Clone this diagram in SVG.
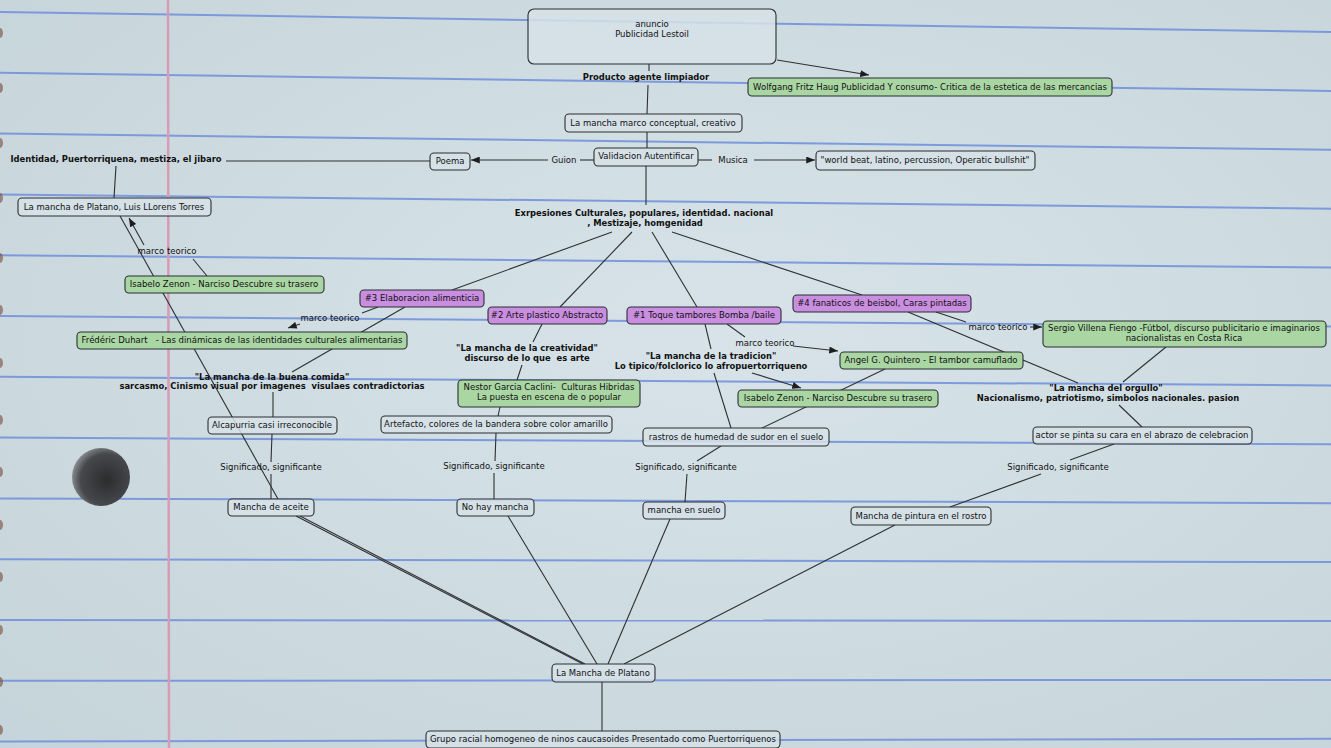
<svg xmlns="http://www.w3.org/2000/svg" width="1331" height="748" viewBox="0 0 1331 748">
<defs>
<radialGradient id="paper" cx="0.55" cy="0.45" r="0.8">
<stop offset="0" stop-color="#d7e3e8"/>
<stop offset="1" stop-color="#c5d4da"/>
</radialGradient>
<radialGradient id="holeg" cx="0.6" cy="0.55" r="0.6">
<stop offset="0" stop-color="#2c2c2e"/>
<stop offset="0.75" stop-color="#46484b"/>
<stop offset="1" stop-color="#85898c"/>
</radialGradient>
<marker id="ah" viewBox="0 0 10 8" refX="10" refY="4" markerWidth="9" markerHeight="7" orient="auto" markerUnits="userSpaceOnUse">
<path d="M0,0 L10,4 L0,8 z" fill="#1e1e1e"/>
</marker>
<style>
.rule{stroke:#6f8fdc;stroke-width:2;opacity:.85}
.c{stroke:#2e3034;stroke-width:1.1;fill:none}
.bx{fill:#d6e2e7;fill-opacity:.85;stroke:#2b2e32;stroke-width:1.1}
.g{fill:#a9d6a3;stroke:#2b2e32;stroke-width:1.1}
.p{fill:#c98edf;stroke:#2b2e32;stroke-width:1.1}
text{font-family:"DejaVu Sans","Liberation Sans",sans-serif;font-size:8.5px;fill:#111;text-anchor:middle;white-space:pre}
.b{font-weight:bold;font-size:8.4px}
</style>
</defs>
<rect width="1331" height="748" fill="url(#paper)"/>
<g id="paper-rules">
<line class="rule" x1="0" y1="12" x2="1331" y2="32"/>
<line class="rule" x1="0" y1="72.8" x2="1331" y2="90.9"/>
<line class="rule" x1="0" y1="133.6" x2="1331" y2="149.8"/>
<line class="rule" x1="0" y1="194.4" x2="1331" y2="208.7"/>
<line class="rule" x1="0" y1="255.2" x2="1331" y2="267.6"/>
<line class="rule" x1="0" y1="316" x2="1331" y2="326.5"/>
<line class="rule" x1="0" y1="376.8" x2="1331" y2="385.4"/>
<line class="rule" x1="0" y1="437.6" x2="1331" y2="444.3"/>
<line class="rule" x1="0" y1="498.4" x2="1331" y2="503.2"/>
<line class="rule" x1="0" y1="559.2" x2="1331" y2="562.1"/>
<line class="rule" x1="0" y1="620" x2="1331" y2="621"/>
<line class="rule" x1="0" y1="680.8" x2="1331" y2="679.9"/>
<line class="rule" x1="0" y1="741.6" x2="1331" y2="738.8"/>
</g>
<line x1="168" y1="0" x2="169" y2="748" stroke="#d79bb6" stroke-width="2.5"/>
<g id="binder-marks" fill="#7a4b3c" opacity="0.6">
<ellipse cx="0" cy="33" rx="3" ry="5"/><ellipse cx="0" cy="88" rx="3" ry="5"/><ellipse cx="0" cy="143" rx="3" ry="5"/><ellipse cx="0" cy="198" rx="3" ry="5"/><ellipse cx="0" cy="258" rx="3" ry="5"/><ellipse cx="0" cy="310" rx="3" ry="5"/><ellipse cx="0" cy="363" rx="3" ry="5"/><ellipse cx="0" cy="420" rx="3" ry="5"/><ellipse cx="0" cy="472" rx="3" ry="5"/><ellipse cx="0" cy="525" rx="3" ry="5"/><ellipse cx="0" cy="577" rx="3" ry="5"/><ellipse cx="0" cy="630" rx="3" ry="5"/><ellipse cx="0" cy="682" rx="3" ry="5"/><ellipse cx="0" cy="730" rx="3" ry="5"/>
</g>
<ellipse id="punch-hole" cx="101" cy="477" rx="29" ry="29" fill="url(#holeg)"/>

<g id="connectors">
<path class="c" d="M649,64 L649,71"/>
<path class="c" d="M648,85 L647,114"/>
<path class="c" d="M777,60 L869,75" marker-end="url(#ah)"/>
<path class="c" d="M647,132 L647,148"/>
<path class="c" d="M594,160 L580,160"/>
<path class="c" d="M548,160 L471,160" marker-end="url(#ah)"/>
<path class="c" d="M698,160 L712,160"/>
<path class="c" d="M754,160 L815,160" marker-end="url(#ah)"/>
<path class="c" d="M430,161 L226,161"/>
<path class="c" d="M116,166 L114,198"/>
<path class="c" d="M646,166 L646,205"/>
<path class="c" d="M612,232 L452,290"/>
<path class="c" d="M632,232 L560,307"/>
<path class="c" d="M652,232 L697,307"/>
<path class="c" d="M672,232 L862,295"/>
<path class="c" d="M207,276 L193,259"/>
<path class="c" d="M144,245 L129,218" marker-end="url(#ah)"/>
<path class="c" d="M120,216 L278,499"/>
<path class="c" d="M378,307 L362,313"/>
<path class="c" d="M300,324 L288,328" marker-end="url(#ah)"/>
<path class="c" d="M405,307 L292,372"/>
<path class="c" d="M273,392 L273,417"/>
<path class="c" d="M272,434 L271,462"/>
<path class="c" d="M271,474 L271,499"/>
<path class="c" d="M542,324 L533,342"/>
<path class="c" d="M522,365 L517,380"/>
<path class="c" d="M500,407 L498,416"/>
<path class="c" d="M496,433 L495,461"/>
<path class="c" d="M494,473 L494,499"/>
<path class="c" d="M727,324 L745,337"/>
<path class="c" d="M793,346 L838,351" marker-end="url(#ah)"/>
<path class="c" d="M705,324 L711,349"/>
<path class="c" d="M752,373 L801,388" marker-end="url(#ah)"/>
<path class="c" d="M714,373 L731,428"/>
<path class="c" d="M885,369 L762,428"/>
<path class="c" d="M721,446 L697,461"/>
<path class="c" d="M687,474 L685,502"/>
<path class="c" d="M936,312 L966,322"/>
<path class="c" d="M1030,327 L1042,327" marker-end="url(#ah)"/>
<path class="c" d="M908,312 L1078,383"/>
<path class="c" d="M1166,347 L1123,382"/>
<path class="c" d="M1119,405 L1142,427"/>
<path class="c" d="M1114,444 L1070,460"/>
<path class="c" d="M1041,474 L950,507"/>
<path class="c" d="M296,516 L583,664"/>
<path class="c" d="M300,516 L585,664"/>
<path class="c" d="M508,516 L597,664"/>
<path class="c" d="M670,519 L608,664"/>
<path class="c" d="M895,525 L624,664"/>
<path class="c" d="M602,682 L602,731"/>
</g>

<g id="n-anuncio"><rect class="bx" x="528" y="9" width="248" height="55" rx="6"/><text x="652" y="27">anuncio</text><text x="652" y="37">Publicidad Lestoil</text></g>
<g id="l-producto"><text class="b" x="646" y="80">Producto agente limpiador</text></g>
<g id="n-wolfgang"><rect class="g" x="748" y="78" width="364" height="18" rx="4"/><text x="930" y="90">Wolfgang Fritz Haug Publicidad Y consumo- Critica de la estetica de las mercancias</text></g>
<g id="n-marco-conceptual"><rect class="bx" x="565" y="114" width="177" height="18" rx="4"/><text x="653" y="126">La mancha marco conceptual, creativo</text></g>
<g id="n-validacion"><rect class="bx" x="594" y="148" width="104" height="18" rx="4"/><text x="646" y="159">Validacion Autentificar</text></g>
<g id="l-guion"><text x="564" y="163">Guion</text></g>
<g id="l-musica"><text x="733" y="163">Musica</text></g>
<g id="n-poema"><rect class="bx" x="430" y="153" width="40" height="17" rx="4"/><text x="450" y="164">Poema</text></g>
<g id="n-world"><rect class="bx" x="816" y="151" width="219" height="19" rx="4"/><text x="925" y="163">"world beat, latino, percussion, Operatic bullshit"</text></g>
<g id="l-identidad"><text class="b" x="116" y="162">Identidad, Puertorriquena, mestiza, el jibaro</text></g>
<g id="n-llorens"><rect class="bx" x="18" y="198" width="193" height="18" rx="4"/><text x="114" y="210">La mancha de Platano, Luis LLorens Torres</text></g>
<g id="l-marco1"><text x="167" y="254">marco teorico</text></g>
<g id="n-isabelo1"><rect class="g" x="125" y="276" width="199" height="17" rx="4"/><text x="224" y="287">Isabelo Zenon - Narciso Descubre su trasero</text></g>
<g id="l-expresiones"><text class="b" x="644" y="216">Exrpesiones Culturales, populares, identidad. nacional</text><text class="b" x="645" y="226">, Mestizaje, homgenidad</text></g>
<g id="n-3"><rect class="p" x="360" y="290" width="124" height="17" rx="4"/><text x="422" y="301">#3 Elaboracion alimenticia</text></g>
<g id="n-2"><rect class="p" x="488" y="307" width="119" height="17" rx="4"/><text x="547" y="318">#2 Arte plastico Abstracto</text></g>
<g id="n-1"><rect class="p" x="627" y="307" width="154" height="17" rx="4"/><text x="704" y="318">#1 Toque tambores Bomba /baile</text></g>
<g id="n-4"><rect class="p" x="793" y="295" width="178" height="17" rx="4"/><text x="882" y="306">#4 fanaticos de beisbol, Caras pintadas</text></g>
<g id="l-marco2"><text x="330" y="321">marco teorico</text></g>
<g id="n-duhart"><rect class="g" x="77" y="332" width="330" height="17" rx="4"/><text x="242" y="343">Frédéric Duhart   - Las dinámicas de las identidades culturales alimentarias</text></g>
<g id="l-buena-comida"><text class="b" x="272" y="380">"La mancha de la buena comida"</text><text class="b" x="272" y="389">sarcasmo, Cinismo visual por imagenes  visulaes contradictorias</text></g>
<g id="l-creatividad"><text class="b" x="527" y="351">"La mancha de la creatividad"</text><text class="b" x="527" y="361">discurso de lo que  es arte</text></g>
<g id="l-tradicion"><text class="b" x="711" y="359">"La mancha de la tradicion"</text><text class="b" x="711" y="369">Lo tipico/folclorico lo afropuertorriqueno</text></g>
<g id="l-marco3"><text x="765" y="346">marco teorico</text></g>
<g id="n-angel"><rect class="g" x="840" y="352" width="183" height="17" rx="4"/><text x="931" y="363">Angel G. Quintero - El tambor camuflado</text></g>
<g id="n-isabelo2"><rect class="g" x="738" y="390" width="200" height="17" rx="4"/><text x="838" y="401">Isabelo Zenon - Narciso Descubre su trasero</text></g>
<g id="l-marco4"><text x="998" y="330">marco teorico</text></g>
<g id="n-sergio"><rect class="g" x="1043" y="321" width="283" height="26" rx="4"/><text x="1184" y="331">Sergio Villena Fiengo -Fútbol, discurso publicitario e imaginarios</text><text x="1184" y="341">nacionalistas en Costa Rica</text></g>
<g id="l-orgullo"><text class="b" x="1106" y="391">"La mancha del orgullo"</text><text class="b" x="1108" y="401">Nacionalismo, patriotismo, simbolos nacionales. pasion</text></g>
<g id="n-nestor"><rect class="g" x="458" y="380" width="182" height="27" rx="4"/><text x="549" y="390">Nestor Garcia Caclini-  Culturas Hibridas</text><text x="549" y="400">La puesta en escena de o popular</text></g>
<g id="n-alcapurria"><rect class="bx" x="208" y="417" width="129" height="17" rx="4"/><text x="272" y="428">Alcapurria casi irreconocible</text></g>
<g id="n-artefacto"><rect class="bx" x="381" y="416" width="231" height="17" rx="4"/><text x="496" y="427">Artefacto, colores de la bandera sobre color amarillo</text></g>
<g id="n-rastros"><rect class="bx" x="643" y="428" width="186" height="18" rx="4"/><text x="736" y="440">rastros de humedad de sudor en el suelo</text></g>
<g id="n-actor"><rect class="bx" x="1033" y="427" width="219" height="17" rx="4"/><text x="1142" y="438">actor se pinta su cara en el abrazo de celebracion</text></g>
<g id="l-sig1"><text x="271" y="470">Significado, significante</text></g>
<g id="l-sig2"><text x="494" y="469">Significado, significante</text></g>
<g id="l-sig3"><text x="686" y="470">Significado, significante</text></g>
<g id="l-sig4"><text x="1058" y="470">Significado, significante</text></g>
<g id="n-aceite"><rect class="bx" x="228" y="499" width="86" height="17" rx="4"/><text x="271" y="510">Mancha de aceite</text></g>
<g id="n-nohay"><rect class="bx" x="457" y="499" width="77" height="17" rx="4"/><text x="495" y="510">No hay mancha</text></g>
<g id="n-suelo"><rect class="bx" x="643" y="502" width="82" height="17" rx="4"/><text x="684" y="513">mancha en suelo</text></g>
<g id="n-pintura"><rect class="bx" x="851" y="507" width="140" height="18" rx="4"/><text x="921" y="519">Mancha de pintura en el rostro</text></g>
<g id="n-platano"><rect class="bx" x="552" y="664" width="103" height="18" rx="4"/><text x="603" y="676">La Mancha de Platano</text></g>
<g id="n-grupo"><rect class="bx" x="426" y="731" width="354" height="17" rx="4"/><text x="603" y="742">Grupo racial homogeneo de ninos caucasoides Presentado como Puertorriquenos</text></g>
</svg>
